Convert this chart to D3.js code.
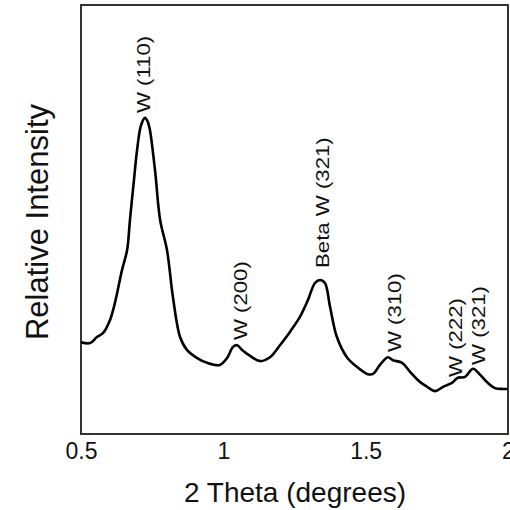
<!DOCTYPE html>
<html>
<head>
<meta charset="utf-8">
<script src="https://cdn.jsdelivr.net/npm/d3@7"></script>
<style>
  body { margin: 0; background: #fff; }
  text { font-family: "Liberation Sans", Arial, sans-serif; fill: #111; }
</style>
</head>
<body>
<div id="chart"></div>
<script>
// 2 theta values and relative intensity
var twoTheta = [0.500, 0.532, 0.556, 0.577, 0.602, 0.619, 0.644, 0.662, 0.672, 0.686,
  0.697, 0.711, 0.725, 0.735, 0.742, 0.760, 0.778, 0.802, 0.823, 0.848,
  0.872, 0.908, 0.943, 0.988, 1.013, 1.034, 1.048, 1.066, 1.094, 1.129,
  1.164, 1.199, 1.234, 1.269, 1.297, 1.322, 1.340, 1.357, 1.375, 1.399,
  1.434, 1.470, 1.505, 1.526, 1.550, 1.578, 1.596, 1.628, 1.656, 1.691,
  1.716, 1.744, 1.772, 1.803, 1.824, 1.849, 1.877, 1.902, 1.926, 1.954,
  1.982, 2.000];
var intensity = [21.4, 21.2, 22.6, 23.5, 26.6, 30.5, 38.2, 42.9, 49.9, 59.2,
  66.2, 72.0, 73.7, 72.7, 70.9, 61.5, 49.9, 42.9, 31.9, 22.6,
  19.6, 17.7, 16.6, 16.1, 17.7, 20.3, 20.7, 19.6, 18.2, 17.0,
  17.9, 20.7, 23.8, 27.3, 31.2, 35.2, 35.9, 35.2, 29.6, 22.6,
  17.9, 15.6, 14.0, 14.0, 16.1, 17.9, 17.2, 16.6, 14.5, 12.1,
  11.0, 10.0, 11.0, 11.9, 13.1, 13.3, 15.2, 13.8, 12.1, 10.7,
  10.5, 10.5];

// peak labels
var peakLabels = ["W (110)", "W (200)", "Beta W (321)", "W (310)", "W (222)", "W (321)"];
var peakTheta = [0.718, 1.062, 1.347, 1.600, 1.814, 1.895];
var peakLevel = [74.8, 21.9, 38.7, 19.1, 13.3, 16.1];

var xTicks = [0.5, 1, 1.5, 2];

var svgWidth = 510;
var svgHeight = 510;
var margin = { top: 5, right: 2, bottom: 76, left: 81 };
var chartWidth = svgWidth - margin.left - margin.right;
var chartHeight = svgHeight - margin.top - margin.bottom;

var svg = d3.select("#chart")
  .append("svg")
  .attr("width", svgWidth)
  .attr("height", svgHeight);

var chartGroup = svg.append("g")
  .attr("transform", `translate(${margin.left}, ${margin.top})`);

var xScale = d3.scaleLinear().domain([0.5, 2]).range([0, chartWidth]);
var yScale = d3.scaleLinear().domain([0, 100]).range([chartHeight, 0]);

// frame
chartGroup.append("rect")
  .attr("width", chartWidth)
  .attr("height", chartHeight)
  .attr("fill", "none")
  .attr("stroke", "#333")
  .attr("stroke-width", 2);

// x tick labels only, no tick marks
var bottomAxis = d3.axisBottom(xScale)
  .tickValues(xTicks)
  .tickSize(0)
  .tickPadding(9)
  .tickFormat(d3.format("~g"));

var xAxisG = chartGroup.append("g")
  .attr("transform", "translate(0, " + chartHeight + ")")
  .call(bottomAxis);
xAxisG.select(".domain").remove();
xAxisG.selectAll("text")
  .style("font-size", "23px")
  .style("font-family", "'Liberation Sans', Arial, sans-serif")
  .attr("fill", "#111");

var points = twoTheta.map((t, i) => ({ t: t, v: intensity[i] }));

var drawLine = d3.line()
  .x(d => xScale(d.t))
  .y(d => yScale(d.v))
  .curve(d3.curveCatmullRom.alpha(0.5));

chartGroup.append("path")
  .attr("d", drawLine(points))
  .attr("fill", "none")
  .attr("stroke", "#000")
  .attr("stroke-width", 2.6)
  .attr("stroke-linejoin", "round");

// peak labels, rotated (a bit stretched along the text like the original)
peakLabels.forEach(function(label, i) {
  chartGroup.append("text")
    .attr("transform", `translate(${xScale(peakTheta[i])}, ${yScale(peakLevel[i])}) rotate(-90) scale(1.2, 1)`)
    .attr("dy", "0.35em")
    .attr("text-anchor", "start")
    .style("font-size", "18.5px")
    .text(label);
});

// axis titles
svg.append("text")
  .attr("x", 295)
  .attr("y", 502)
  .attr("text-anchor", "middle")
  .style("font-size", "28px")
  .text("2 Theta (degrees)");

svg.append("text")
  .attr("transform", "translate(37, 222) rotate(-90)")
  .attr("dy", "0.35em")
  .attr("text-anchor", "middle")
  .style("font-size", "31px")
  .text("Relative Intensity");
</script>
</body>
</html>
